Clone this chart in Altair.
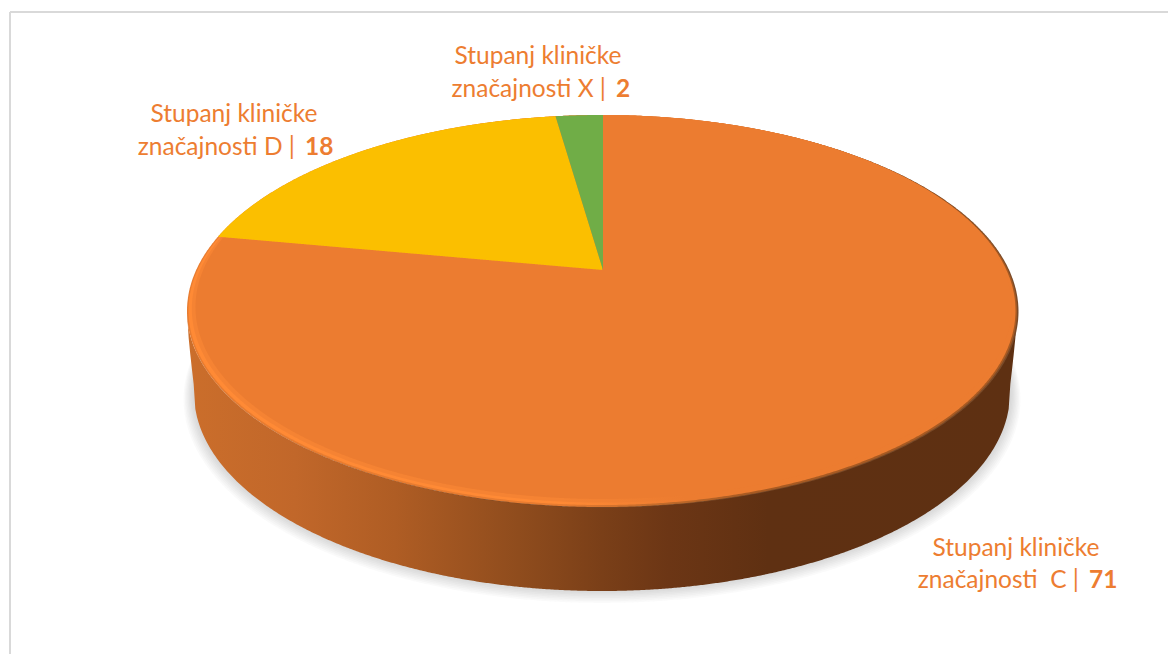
import numpy as np
import pandas as pd
import altair as alt

# ---- chart values ----
categories = ["C", "D", "X"]
values = [71, 18, 2]
slice_colors = ["#EC7C30", "#FBBF00", "#70AD47"]
label_line1 = ["Stupanj kliničke", "Stupanj kliničke", "Stupanj kliničke"]
label_line2 = ["značajnosti \u00a0C |", "značajnosti D |", "značajnosti X |"]

# ---- drawing geometry (page pixels) ----
APEX = (603.0, 270.0)
TILT = 0.45
OUTER = (602.0, 311.0, 415.0, 196.0)
MIDDLE = (602.8, 308.8, 411.0, 193.8)
INNER = (603.5, 307.0, 408.0, 192.0)
FLOOR = (602.0, 393.0, 408.0, 198.0)
FONT = "Lato"
FS = 24.5
TEXT_COLOR = "#ED7D31"

xscale = alt.Scale(domain=[8, 1168], nice=False, zero=False)
yscale = alt.Scale(domain=[654, 8], nice=False, zero=False)


def ray_hit(theta, ell):
    cx, cy, rx, ry = ell
    dx, dy = np.sin(theta), -TILT * np.cos(theta)
    ox, oy = (APEX[0] - cx) / rx, (APEX[1] - cy) / ry
    ux, uy = dx / rx, dy / ry
    a, b, c = ux**2 + uy**2, 2 * (ox * ux + oy * uy), ox**2 + oy**2 - 1
    s = (-b + np.sqrt(b**2 - 4 * a * c)) / (2 * a)
    return APEX[0] + s * dx, APEX[1] + s * dy


def scan(poly):
    """Turn a polygon into x / y / y2 rows for an area mark."""
    xs = poly[:, 0]
    ys = poly[:, 1]
    grid = np.unique(np.concatenate([xs, np.linspace(xs.min(), xs.max(), 500)]))
    x0, x1 = xs, np.roll(xs, -1)
    y0, y1 = ys, np.roll(ys, -1)
    rows = []
    for g in grid:
        m = ((x0 <= g) & (g < x1)) | ((x1 <= g) & (g < x0))
        if not m.any():
            continue
        c = y0[m] + (g - x0[m]) / (x1[m] - x0[m]) * (y1[m] - y0[m])
        rows.append((g, c.min(), c.max()))
    return pd.DataFrame(rows, columns=["x", "y", "y2"])


def ellipse_band(ell):
    cx, cy, rx, ry = ell
    t = np.linspace(0, np.pi, 500)
    x = cx - rx * np.cos(t)
    h = ry * np.sin(t)
    return pd.DataFrame({"x": x, "y": cy - h, "y2": cy + h})


def wall_band():
    cx, cy, rx, ry = FLOOR
    t = np.linspace(0, np.pi, 500)
    xo = OUTER[0] - OUTER[2] * np.cos(t)
    ytop = OUTER[1] + OUTER[3] * np.sin(t)
    x = np.linspace(OUTER[0] - OUTER[2], OUTER[0] + OUTER[2], 500)
    y_top = np.interp(x, xo, ytop)
    y_bot = np.where(
        np.abs(x - cx) < rx,
        cy + ry * np.sqrt(np.clip(1 - ((x - cx) / rx) ** 2, 0, 1)),
        np.nan,
    )
    # beyond the floor ellipse the wall tapers to the rim
    y_bot = np.where(np.isnan(y_bot), y_top + 40 * (1 - (np.abs(x - cx) - rx) / (OUTER[2] - rx)), y_bot)
    return pd.DataFrame({"x": x, "y": y_top, "y2": y_bot})


def band(df, fill, opacity=1.0):
    return (
        alt.Chart(df)
        .mark_area(color=fill, opacity=opacity, interpolate="linear", strokeWidth=0, clip=True)
        .encode(
            x=alt.X("x:Q", scale=xscale, axis=None),
            y=alt.Y("y:Q", scale=yscale, axis=None),
            y2="y2:Q",
        )
    )


def gradient(stops):
    return alt.Gradient(
        gradient="linear",
        x1=0, x2=1, y1=0, y2=0,
        stops=[alt.GradientStop(offset=o, color=c) for o, c in stops],
    )


# ---- slices, clockwise from twelve o'clock, sizes from the values ----
total = sum(values)
cum = np.cumsum([0] + values) / total * 2 * np.pi
ends = {"C": (cum[0], cum[1]), "D": (cum[1], cum[2]), "X": (cum[2], cum[3])}


def wedge(cat, ell):
    a, b = ends[cat]
    th = np.linspace(a, b, max(int((b - a) * 200), 30))
    hx, hy = ray_hit(th, ell)
    poly = np.vstack([[APEX], np.column_stack([hx, hy])])
    return scan(poly)


layers = []

# soft shadow
cx, cy, rx, ry = FLOOR
for k in range(8, 0, -1):
    grow = k * 1.3
    layers.append(band(ellipse_band((cx, cy + k * 0.9 - 1, rx + grow, ry + grow * 0.55)), "#707070", 0.035))

# side wall
wall_fill = gradient([
    (0.0, "#CB6E2B"), (0.13, "#C1672A"), (0.25, "#AF5D24"), (0.40, "#8F4C1D"),
    (0.50, "#7A3F18"), (0.58, "#6C3615"), (0.70, "#5F3012"), (1.0, "#5E3012"),
])
layers.append(band(wall_band(), wall_fill))

# thin dark outline on the upper right edge
layers.append(band(ellipse_band((603.5, 311.5, 415.0, 196.0)), "#7A4A28"))

# bevelled rim, softened in steps
rim_soft = gradient([
    (0.0, "#E87C30"), (0.45, "#E87C30"), (0.58, "#C06A2A"), (0.68, "#A85A22"), (1.0, "#A85A22"),
])
layers.append(band(ellipse_band(OUTER), rim_soft))
rim_fill = gradient([
    (0.0, "#FF8A35"), (0.45, "#FF8A35"), (0.60, slice_colors[0]), (1.0, slice_colors[0]),
])
layers.append(band(ellipse_band((602.0, 310.5, 413.5, 194.5)), rim_fill))
rim_mid = gradient([
    (0.0, "#F58333"), (0.45, "#F58333"), (0.60, slice_colors[0]), (1.0, slice_colors[0]),
])
layers.append(band(ellipse_band(MIDDLE), rim_mid))

# top face
layers.append(band(wedge("C", INNER), slice_colors[0]))
layers.append(band(wedge("D", OUTER), slice_colors[1]))
layers.append(band(wedge("X", OUTER), slice_colors[2]))

# frame
frame_v = pd.DataFrame({"x": [10, 10], "y": [12, 654]})
frame_h = pd.DataFrame({"x": [10, 1168], "y": [12, 12]})
for fr in (frame_v, frame_h):
    layers.append(
        alt.Chart(fr)
        .mark_line(color="#D9D9D9", strokeWidth=2)
        .encode(
            x=alt.X("x:Q", scale=xscale, axis=None),
            y=alt.Y("y:Q", scale=yscale, axis=None),
        )
    )

# labels
label_anchor = {
    "C": dict(cx=1016, y1=556, y2=588, split=1085),
    "D": dict(cx=234, y1=122, y2=155, split=301),
    "X": dict(cx=538, y1=64, y2=97, split=612),
}
rows_l1, rows_l2, rows_b = [], [], []
for i, c in enumerate(categories):
    p = label_anchor[c]
    rows_l1.append({"x": p["cx"], "y": p["y1"], "t": label_line1[i]})
    rows_l2.append({"x": p["split"] - 6, "y": p["y2"], "t": label_line2[i]})
    rows_b.append({"x": p["split"] + 4, "y": p["y2"], "t": str(values[i])})


def texts(rows, align, weight):
    return (
        alt.Chart(pd.DataFrame(rows))
        .mark_text(font=FONT, fontSize=FS, color=TEXT_COLOR, align=align,
                   baseline="alphabetic", fontWeight=weight)
        .encode(
            x=alt.X("x:Q", scale=xscale, axis=None),
            y=alt.Y("y:Q", scale=yscale, axis=None),
            text="t:N",
        )
    )


layers.append(texts(rows_l1, "center", "normal"))
layers.append(texts(rows_l2, "right", "normal"))
layers.append(texts(rows_b, "left", "bold"))

chart = (
    alt.layer(*layers)
    .properties(width=1160, height=646, padding=0, autosize=alt.AutoSizeParams(type="none"),
                background="#FFFFFF")
    .configure_view(stroke=None)
)

chart.save("out.html", embed_options={"renderer": "svg", "actions": False})
